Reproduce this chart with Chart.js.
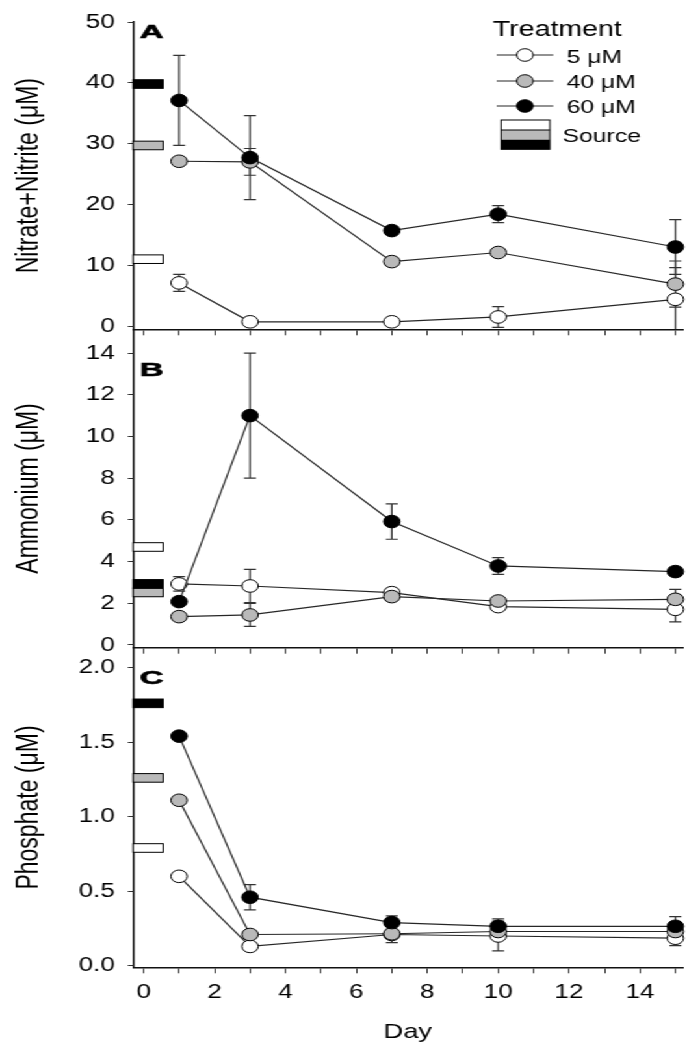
<!DOCTYPE html>
<html>
<head>
<meta charset="utf-8">
<script src="https://cdn.jsdelivr.net/npm/chart.js@4.4.1/dist/chart.umd.min.js"></script>
<style>
  html, body { margin: 0; padding: 0; background: #fff; overflow: hidden; }
  /* the figure is drawn narrow and stretched sideways, like the original */
  #wrap { position: relative; width: 534px; height: 1050px; transform: scaleX(1.3); transform-origin: 0 0; }
  #wrap canvas { position: absolute; left: 0; top: 0; }
</style>
</head>
<body>
<div id="wrap">
  <canvas id="chartA" width="534" height="1050"></canvas>
  <canvas id="chartB" width="534" height="1050"></canvas>
  <canvas id="chartC" width="534" height="1050"></canvas>
</div>
<script>
// Sample days and treatments
const days = [1, 3, 7, 10, 15];
const treatments = ["5 μM", "40 μM", "60 μM"];
const dayTicks = [0, 1, 2, 3, 4, 5, 6, 7, 8, 9, 10, 11, 12, 13, 14, 15];
const dayLabels = [0, 2, 4, 6, 8, 10, 12, 14];

// Panel A - nitrate + nitrite (uM)
const nitrate5 = [7.1, 0.7, 0.7, 1.5, 4.4];
const nitrate40 = [27.1, 27.0, 10.6, 12.1, 6.9];
const nitrate60 = [37.1, 27.7, 15.7, 18.4, 13.0];
const nitrate5Err = [1.4, 0, 0, 1.7, 5.2];
const nitrate40Err = [0, 2.2, 0.6, 0, 3.8];
const nitrate60Err = [7.4, 6.9, 0, 1.4, 4.5];
const nitrateSource = [11.0, 29.7, 39.8];
const nitrateTicks = [0, 10, 20, 30, 40, 50];

// Panel B - ammonium (uM)
const ammonium5 = [2.93, 2.83, 2.51, 1.84, 1.71];
const ammonium40 = [1.36, 1.44, 2.32, 2.11, 2.19];
const ammonium60 = [2.08, 11.0, 5.92, 3.79, 3.52];
const ammonium5Err = [0.35, 0.8, 0, 0, 0.6];
const ammonium40Err = [0, 0.55, 0, 0, 0.48];
const ammonium60Err = [0, 3.0, 0.85, 0.4, 0];
const ammoniumSource = [4.7, 2.52, 2.93];
const ammoniumTicks = [0, 2, 4, 6, 8, 10, 12, 14];

// Panel C - phosphate (uM)
const phosphate5 = [0.60, 0.13, 0.21, 0.20, 0.185];
const phosphate40 = [1.11, 0.21, 0.215, 0.23, 0.23];
const phosphate60 = [1.54, 0.46, 0.29, 0.265, 0.265];
const phosphate5Err = [0, 0, 0, 0.1, 0.05];
const phosphate40Err = [0, 0, 0.06, 0, 0];
const phosphate60Err = [0, 0.085, 0.045, 0.05, 0.065];
const phosphateSource = [0.79, 1.26, 1.76];
const phosphateTicks = [0, 0.5, 1.0, 1.5, 2.0];

const FONT = "'Liberation Sans', Arial, sans-serif";
const fills = ["#ffffff", "#b9b9b9", "#000000"];
const lineColor = "#262626";

function makePanel(id, p) {
  // 60 uM first so it is drawn on top
  const datasets = [2, 1, 0].map((i) => ({
    label: treatments[i],
    data: days.map((d, j) => ({ x: d, y: p.series[i][j] })),
    errors: p.errors[i],
    borderColor: lineColor,
    borderWidth: 1.2,
    pointRadius: 6.3,
    pointHoverRadius: 6.3,
    pointBackgroundColor: fills[i],
    pointBorderColor: "#000",
    pointBorderWidth: 1,
    tension: 0,
    clip: false,
  }));

  // source concentration bars next to the y axis
  const sourceBars = {
    id: "sourceBars",
    beforeDatasetsDraw(chart) {
      const { ctx, chartArea, scales: { x, y } } = chart;
      const x0 = chartArea.left;
      const x1 = x.getPixelForValue(0.55);
      ctx.save();
      ctx.lineWidth = 1;
      ctx.strokeStyle = "#000";
      p.source.forEach((v, i) => {
        const yc = y.getPixelForValue(v);
        ctx.fillStyle = fills[i];
        ctx.fillRect(x0, yc - 4.3, x1 - x0, 8.6);
        ctx.strokeRect(x0, yc - 4.3, x1 - x0, 8.6);
      });
      ctx.restore();
    },
  };

  const errorBars = {
    id: "errorBars",
    beforeDatasetsDraw(chart) {
      const { ctx, chartArea, scales: { y } } = chart;
      ctx.save();
      ctx.beginPath();
      ctx.rect(chartArea.left, chartArea.top, chartArea.right - chartArea.left, chartArea.bottom - chartArea.top);
      ctx.clip();
      ctx.strokeStyle = "#333";
      ctx.lineWidth = 1.2;
      chart.data.datasets.forEach((ds, i) => {
        const meta = chart.getDatasetMeta(i);
        ds.errors.forEach((e, j) => {
          if (!e) return;
          const px = meta.data[j].x;
          const top = y.getPixelForValue(ds.data[j].y + e);
          const bot = y.getPixelForValue(ds.data[j].y - e);
          ctx.beginPath();
          ctx.moveTo(px, top); ctx.lineTo(px, bot);
          ctx.moveTo(px - 4.6, top); ctx.lineTo(px + 4.6, top);
          ctx.moveTo(px - 4.6, bot); ctx.lineTo(px + 4.6, bot);
          ctx.stroke();
        });
      });
      ctx.restore();
    },
  };

  // the panel letters are set in a wide, heavy face
  const panelLetter = {
    id: "panelLetter",
    afterDraw(chart) {
      const ctx = chart.ctx;
      ctx.save();
      ctx.translate(107.5, p.letterY);
      ctx.scale(1.4, 1);
      ctx.font = `bold 18px ${FONT}`;
      ctx.fillStyle = "#000";
      ctx.strokeStyle = "#000";
      ctx.lineWidth = 0.6;
      ctx.textBaseline = "alphabetic";
      ctx.fillText(p.letter, 0, 0);
      ctx.strokeText(p.letter, 0, 0);
      ctx.restore();
    },
  };

  const plugins = [sourceBars, errorBars, panelLetter];
  if (p.legend) plugins.push(legendBox);

  return new Chart(document.getElementById(id), {
    type: "line",
    data: { datasets },
    options: {
      responsive: false,
      animation: false,
      events: [],
      layout: { padding: { top: p.top, bottom: p.bottom, left: 0, right: 9 } },
      plugins: { legend: { display: false }, tooltip: { enabled: false } },
      scales: {
        x: {
          type: "linear",
          min: -0.3,
          max: 15.2,
          afterBuildTicks: (s) => { s.ticks = dayTicks.map((v) => ({ value: v })); },
          afterFit: (s) => { s.height = p.xHeight; },
          grid: { drawOnChartArea: false, drawTicks: true, tickLength: 6, color: "#333", lineWidth: 1 },
          border: { color: "#111", width: 1.5 },
          ticks: {
            display: p.showX,
            autoSkip: false,
            maxRotation: 0,
            padding: 7,
            color: "#000",
            font: { family: FONT, size: 20 },
            callback: (v) => (dayLabels.includes(v) ? String(v) : ""),
          },
          title: {
            display: p.showX,
            text: "Day",
            color: "#000",
            font: { family: FONT, size: 21 },
            padding: { top: 0, bottom: 5 },
          },
        },
        y: {
          type: "linear",
          min: p.min,
          max: p.max,
          afterBuildTicks: (s) => { s.ticks = p.ticks.map((v) => ({ value: v })); },
          afterFit: (s) => { s.width = 102.3; },
          grid: { drawOnChartArea: false, drawTicks: true, tickLength: 4, color: "#333", lineWidth: 1 },
          border: { color: "#111", width: 1.5 },
          ticks: {
            padding: 10,
            color: "#000",
            font: { family: FONT, size: 20 },
            callback: p.fmt,
          },
          title: {
            display: true,
            text: p.title,
            color: "#000",
            font: { family: FONT, size: 23 },
            padding: { top: 9, bottom: 0 },
          },
        },
      },
    },
    plugins,
  });
}

// Treatment legend in panel A
const legendBox = {
  id: "legendBox",
  afterDraw(chart) {
    const ctx = chart.ctx;
    ctx.save();
    ctx.fillStyle = "#000";
    ctx.textBaseline = "alphabetic";
    ctx.font = `22px ${FONT}`;
    ctx.fillText("Treatment", 379, 36);

    const rowY = [55, 81, 106];
    const baseY = [62.7, 88, 112.7];
    treatments.forEach((t, i) => {
      ctx.strokeStyle = lineColor;
      ctx.lineWidth = 1.2;
      ctx.beginPath();
      ctx.moveTo(382, rowY[i]);
      ctx.lineTo(425.6, rowY[i]);
      ctx.stroke();
      ctx.beginPath();
      ctx.arc(403.8, rowY[i], 6.3, 0, Math.PI * 2);
      ctx.fillStyle = fills[i];
      ctx.fill();
      ctx.strokeStyle = "#000";
      ctx.lineWidth = 1;
      ctx.stroke();
      ctx.fillStyle = "#000";
      ctx.font = `19px ${FONT}`;
      ctx.fillText(t, 435.9, baseY[i]);
    });

    // source swatch: white / gray / black stripes
    const stripes = [[120, 130], [130, 139.7], [139.7, 149.3]];
    stripes.forEach(([a, b], i) => {
      ctx.fillStyle = fills[i];
      ctx.fillRect(385.4, a, 37.6, b - a);
    });
    ctx.strokeStyle = "#000";
    ctx.lineWidth = 1;
    ctx.strokeRect(385.4, 120, 37.6, 29.3);
    ctx.beginPath();
    ctx.moveTo(385.4, 130); ctx.lineTo(423, 130);
    ctx.stroke();
    ctx.fillStyle = "#000";
    ctx.font = `19px ${FONT}`;
    ctx.fillText("Source", 432.8, 141.7);
    ctx.restore();
  },
};

makePanel("chartA", {
  series: [nitrate5, nitrate40, nitrate60],
  errors: [nitrate5Err, nitrate40Err, nitrate60Err],
  source: nitrateSource,
  ticks: nitrateTicks,
  fmt: (v) => String(v),
  min: -0.53, max: 50,
  top: 15, bottom: 710.7, xHeight: 10, showX: false,
  title: "Nitrate+Nitrite (μM)",
  letter: "A", letterY: 37.5,
  legend: true,
});

makePanel("chartB", {
  series: [ammonium5, ammonium40, ammonium60],
  errors: [ammonium5Err, ammonium40Err, ammonium60Err],
  source: ammoniumSource,
  ticks: ammoniumTicks,
  fmt: (v) => String(v),
  min: -0.13, max: 15.14,
  top: 329.3, bottom: 392.3, xHeight: 10, showX: false,
  title: "Ammonium (μM)",
  letter: "B", letterY: 375.5,
});

makePanel("chartC", {
  series: [phosphate5, phosphate40, phosphate60],
  errors: [phosphate5Err, phosphate40Err, phosphate60Err],
  source: phosphateSource,
  ticks: phosphateTicks,
  fmt: (v) => v.toFixed(1),
  min: -0.01, max: 2.133,
  top: 647.7, bottom: 0, xHeight: 82.7, showX: true,
  title: "Phosphate (μM)",
  letter: "C", letterY: 683.5,
});
</script>
</body>
</html>
